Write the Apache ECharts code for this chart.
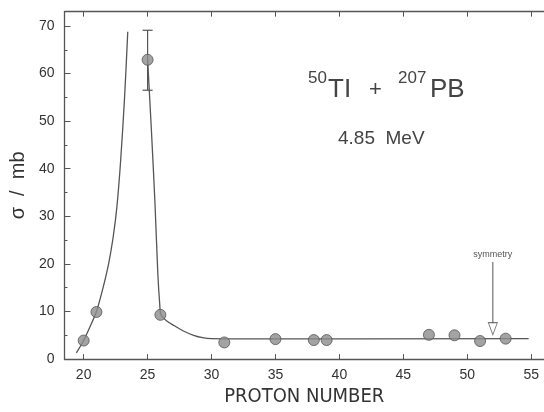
<!DOCTYPE html>
<html>
<head>
<meta charset="utf-8">
<script src="https://cdn.jsdelivr.net/npm/echarts@6/dist/echarts.min.js"></script>
<style>
  html, body { margin: 0; padding: 0; background: #fff; }
  #chart { width: 544px; height: 412px; }
</style>
</head>
<body>
<div id="chart"></div>
<script>
// measured cross sections (proton number, sigma in mb)
var protonNumbers = [20, 21, 25, 26, 31, 35, 38, 39, 47, 49, 51, 53];
var sigmaValues = [3.9, 9.9, 62.9, 9.3, 3.5, 4.2, 4.0, 4.0, 5.1, 5.0, 3.8, 4.3];

// error bar on the peak point
var errorBar = [25, 56.5, 69.1];

// hand drawn curve, two branches
var curveLeft = [[19.43, 1.3], [20, 3.9], [20.5, 6.8], [21.0, 10], [21.5, 14.8], [21.95, 20],
  [22.3, 25.5], [22.6, 32], [22.9, 42], [23.2, 55], [23.45, 68.8]];
var curveRight = [[25, 63], [25.3, 48], [25.58, 32.6], [25.8, 18], [25.95, 11.5], [26.05, 9.3],
  [26.5, 8.0], [27.1, 7.0], [27.8, 5.9], [28.6, 5.0], [29.3, 4.5], [30, 4.3], [32, 4.25], [54.8, 4.3]];

// symmetry arrow
var symmetryX = 52;
var arrowTop = 20.4;
var arrowHead = 6.4;

var xTicks = [20, 25, 30, 35, 40, 45, 50, 55];
var yTicks = [0, 10, 20, 30, 40, 50, 60, 70];
var yMinorTicks = [5, 15, 25, 35, 45, 55, 65];

var axisColor = '#555';
var txtColor = '#333';
var font = "'Liberation Sans', Arial, sans-serif";

var scatterData = protonNumbers.map(function (x, i) { return [x, sigmaValues[i]]; });

var chart = echarts.init(document.getElementById('chart'));
chart.setOption({
  animation: false,
  grid: { left: 62.7, right: 0, top: 11.7, bottom: 49.3 },
  xAxis: [{
    type: 'value', min: 18.5, max: 56, position: 'bottom',
    name: 'PROTON NUMBER', nameLocation: 'middle', nameGap: 27,
    nameTextStyle: { fontFamily: "'Liberation Sans Narrow', 'DejaVu Sans Condensed', sans-serif", fontSize: 20, color: txtColor },
    axisLine: { onZero: false, lineStyle: { color: axisColor, width: 1.3 } },
    axisTick: { inside: true, length: 5, customValues: xTicks, lineStyle: { color: axisColor } },
    axisLabel: { customValues: xTicks, fontFamily: font, fontSize: 14, color: txtColor, margin: 9 },
    splitLine: { show: false }
  }, {
    type: 'value', min: 18.5, max: 56, position: 'top',
    axisLine: { show: true, onZero: false, lineStyle: { color: axisColor, width: 1.3 } },
    axisTick: { show: true, inside: true, length: 5, customValues: xTicks, lineStyle: { color: axisColor } },
    axisLabel: { show: false },
    splitLine: { show: false }
  }],
  yAxis: [{
    type: 'value', min: 0, max: 73, position: 'left',
    name: 'σ  /  mb', nameLocation: 'middle', nameGap: 32, nameRotate: 90,
    nameTextStyle: { fontFamily: font, fontSize: 20, color: txtColor },
    axisLine: { show: true, onZero: false, lineStyle: { color: axisColor, width: 1.3 } },
    axisTick: { inside: true, length: 6, customValues: yTicks, lineStyle: { color: axisColor } },
    axisLabel: { customValues: yTicks, fontFamily: font, fontSize: 14, color: txtColor, margin: 10 },
    splitLine: { show: false }
  }, {
    type: 'value', min: 0, max: 73, position: 'left',
    axisLine: { show: false, onZero: false },
    axisTick: { show: true, inside: true, length: 3, customValues: yMinorTicks, lineStyle: { color: axisColor } },
    axisLabel: { show: false },
    splitLine: { show: false }
  }],
  graphic: [
    { type: 'text', left: 308, top: 70, style: { text: '50', font: '17px ' + font, fill: '#444' } },
    { type: 'text', left: 328, top: 77, style: { text: 'TI', font: '26px ' + font, fill: '#444' } },
    { type: 'text', left: 369, top: 79, style: { text: '+', font: '22px ' + font, fill: '#444' } },
    { type: 'text', left: 398, top: 70, style: { text: '207', font: '17px ' + font, fill: '#444' } },
    { type: 'text', left: 430, top: 77, style: { text: 'PB', font: '26px ' + font, fill: '#444' } },
    { type: 'text', left: 338, top: 129, style: { text: '4.85  MeV', font: '19px ' + font, fill: '#444' } }
  ],
  series: [{
    type: 'line', data: curveLeft, showSymbol: false, smooth: 0.3,
    lineStyle: { color: axisColor, width: 1.3 }, z: 2
  }, {
    type: 'line', data: curveRight, showSymbol: false, smooth: 0.3,
    lineStyle: { color: axisColor, width: 1.3 }, z: 2
  }, {
    type: 'custom',
    data: [errorBar],
    renderItem: function (params, api) {
      var lo = api.coord([api.value(0), api.value(1)]);
      var hi = api.coord([api.value(0), api.value(2)]);
      var w = 5;
      var st = { stroke: axisColor, lineWidth: 1.2 };
      return { type: 'group', children: [
        { type: 'line', shape: { x1: lo[0], y1: lo[1], x2: hi[0], y2: hi[1] }, style: st },
        { type: 'line', shape: { x1: lo[0] - w, y1: lo[1], x2: lo[0] + w, y2: lo[1] }, style: st },
        { type: 'line', shape: { x1: hi[0] - w, y1: hi[1], x2: hi[0] + w, y2: hi[1] }, style: st }
      ] };
    },
    z: 3
  }, {
    type: 'scatter', data: scatterData, symbol: 'circle', symbolSize: 11,
    itemStyle: { color: '#8c8c8c', borderColor: '#555', borderWidth: 1 }, z: 4
  }, {
    type: 'line', data: [[symmetryX, arrowTop], [symmetryX, arrowHead + 1]], showSymbol: false,
    lineStyle: { color: axisColor, width: 1 }, z: 2,
    markPoint: {
      symbol: 'circle', symbolSize: 0,
      data: [{ coord: [symmetryX, arrowTop], value: 'symmetry' }],
      label: { show: true, position: 'top', distance: 3, formatter: 'symmetry', fontFamily: font, fontSize: 9, color: '#555' }
    }
  }, {
    type: 'scatter', data: [[symmetryX, arrowHead]], symbol: 'triangle', symbolRotate: 180,
    symbolSize: [9, 12], itemStyle: { color: '#fff', borderColor: axisColor, borderWidth: 1 }, z: 5
  }]
});
</script>
</body>
</html>
